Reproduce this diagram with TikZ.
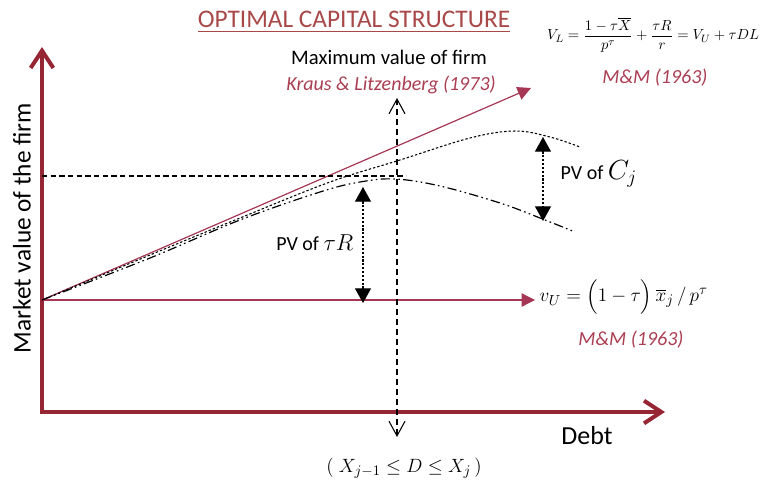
\documentclass[tikz,border=0pt]{standalone}
\usepackage{amsmath}
\usepackage{fontspec}
\setmainfont{Carlito}
\usetikzlibrary{arrows.meta}
\definecolor{axisred}{RGB}{150,38,52}
\definecolor{linered}{RGB}{165,55,85}
\definecolor{textred}{RGB}{170,62,82}
\definecolor{titlered}{RGB}{168,72,72}

\begin{document}
\begin{tikzpicture}[x=0.75pt,y=-0.75pt,
  axis/.style={draw=axisred,line width=3pt,line join=miter,
    {Straight Barb[length=13pt,width=17pt]}-{Straight Barb[length=13pt,width=17pt]}},
  redline/.style={draw=linered,line width=0.9pt,-{Triangle[length=10pt,width=10pt]}},
  pvarrow/.style={line width=0.8pt,dash pattern=on 1.6pt off 1.3pt,
    {Triangle[length=11pt,width=12pt]}-{Triangle[length=11pt,width=12pt]}},
  cite/.style={text=textred,font=\fontsize{15}{18}\selectfont\itshape}]
\useasboundingbox (0,0) rectangle (766,482);

% axes
\coordinate (ytop) at (42,47);
\coordinate (O) at (42,412);
\coordinate (xend) at (665,412);
\draw[axis] (ytop) -- (O) -- (xend);

% straight lines from the intercept
\coordinate (V0) at (42,300);
\coordinate (VU) at (535,300);
\coordinate (VL) at (531,88);
\draw[redline] (V0) -- (VU);
\draw[redline] (V0) -- (VL);

% value curves
\draw[line width=0.8pt,dash pattern=on 1.8pt off 1.5pt] plot[smooth,tension=0.6]
  coordinates {(V0) (150,255) (240,218) (330,182) (400,160) (470,138) (515,131) (550,137) (580,147)};
\draw[line width=0.9pt,dash pattern=on 7pt off 2.5pt on 1.2pt off 2.5pt on 1.2pt off 2.5pt] plot[smooth,tension=0.6]
  coordinates {(V0) (150,258) (240,220) (320,192) (360,182) (395,179) (440,186) (500,203) (540,218) (575,232)};

% maximum value
\coordinate (hL) at (42,176);
\coordinate (hR) at (406,176);
\draw[line width=0.8pt,dash pattern=on 4pt off 2.5pt] (hL) -- (hR);
\coordinate (vtop) at (397,98);
\coordinate (vbot) at (397,437);
\draw[line width=0.8pt,dash pattern=on 4.5pt off 3pt,
  {Straight Barb[length=11pt,width=12pt]}-{Straight Barb[length=11pt,width=12pt]}] (vbot) -- (vtop);

% present values
\coordinate (trA) at (363,187);
\coordinate (trB) at (363,303);
\draw[pvarrow] (trA) -- (trB);
\coordinate (cjA) at (543,137);
\coordinate (cjB) at (543,221);
\draw[pvarrow] (cjA) -- (cjB);

\node (pvtr) at (358,243) [anchor=east] {\fontsize{15}{18}\selectfont PV of \fontsize{19}{22}\selectfont$\tau R$};
\node (pvcj) at (556,174) [anchor=west] {\fontsize{15}{18}\selectfont PV of \fontsize{22}{24}\selectfont$C_{j}$};

% titles and texts
\node (title) at (354,22) [text=titlered] {\fontsize{19}{22}\selectfont\underline{OPTIMAL CAPITAL STRUCTURE}};
\node (maxval) at (389,57) {\fontsize{15.5}{18}\selectfont Maximum value of firm};
\node (kraus) at (391,85) [cite] {Kraus \& Litzenberg (1973)};
\node (vlform) at (653,35) [inner sep=0pt] {\fontsize{11}{13}\selectfont$V_L = \dfrac{1-\tau\overline{X}}{p^{\tau}} + \dfrac{\tau R}{r} = V_U + \tau DL$};
\node (mmtop) at (655,78) [cite] {M\&M (1963)};
\node (vuform) at (535,297) [anchor=west] {\fontsize{15}{18}\selectfont$v_{U} = \Bigl(1-\tau\Bigr)\,\overline{x}_{j}\,/\,p^{\tau}$};
\node (mmbot) at (631,340) [cite] {M\&M (1963)};
\node (debt) at (587,436) {\fontsize{19.5}{22}\selectfont Debt};
\node (range) at (404,468) {\fontsize{15}{18}\selectfont$(\;X_{j-1} \le D \le X_{j}\,)$};
\node (ylabel) at (22,228) [rotate=90] {\fontsize{19}{22}\selectfont Market value of the firm};
\end{tikzpicture}
\end{document}
